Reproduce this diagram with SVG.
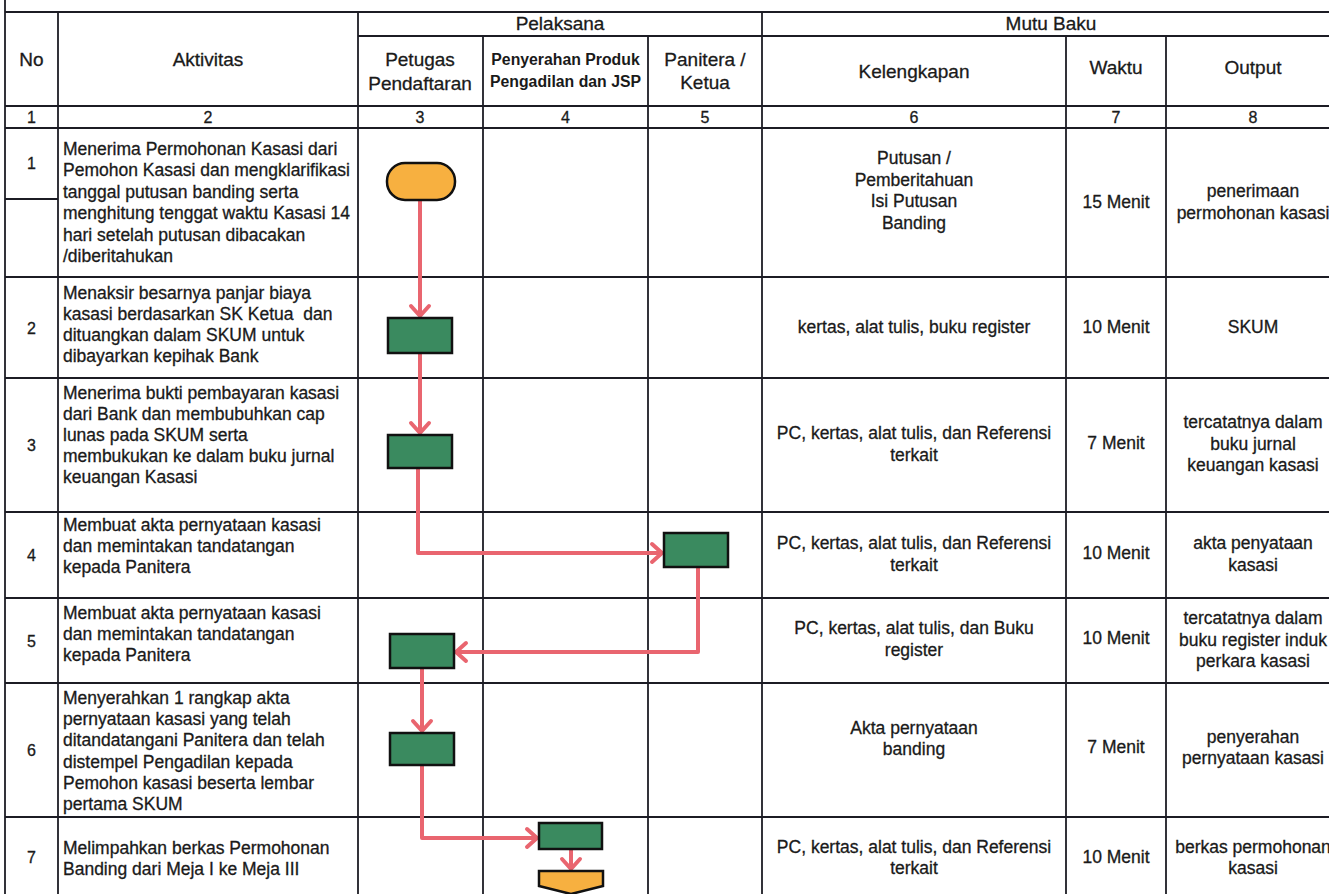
<svg xmlns="http://www.w3.org/2000/svg" width="1329" height="894" viewBox="0 0 1329 894">
<style>
.t{font-family:"Liberation Sans",Arial,sans-serif;font-size:17.5px;fill:#1a1a1a;stroke:#1a1a1a;stroke-width:0.3}
.c{text-anchor:middle}
.h{font-size:19px}
.b{font-weight:bold;font-size:15.8px;stroke-width:0}
.n{font-size:16px}
.g line{stroke:#1c1c24;stroke-width:1.8}
.proc{fill:#3A8A5F;stroke:#111;stroke-width:2.5}
.term{fill:#F7B040;stroke:#111;stroke-width:2.5}
.con{fill:none;stroke:#E9656F;stroke-width:4;stroke-linejoin:round}
</style>
<defs>
<marker id="ah" markerUnits="userSpaceOnUse" viewBox="-14 -12 18 24" refX="0" refY="0" markerWidth="18" markerHeight="24" orient="auto" overflow="visible">
<path d="M-10,-9 L0,0 L-10,9" fill="none" stroke="#E9656F" stroke-width="4" stroke-linecap="round" stroke-linejoin="round"/>
</marker>
</defs>
<rect width="1329" height="894" fill="#fff"/>
<g id="grid" class="g">
<line x1="5" y1="0" x2="5" y2="894"/>
<line x1="5" y1="12" x2="1329" y2="12"/>
<line x1="358" y1="36" x2="1329" y2="36"/>
<line x1="5" y1="106" x2="1329" y2="106"/>
<line x1="5" y1="128" x2="1329" y2="128"/>
<line x1="5" y1="199" x2="58" y2="199"/>
<line x1="5" y1="277" x2="1329" y2="277"/>
<line x1="5" y1="378" x2="1329" y2="378"/>
<line x1="5" y1="512" x2="1329" y2="512"/>
<line x1="5" y1="598" x2="1329" y2="598"/>
<line x1="5" y1="683" x2="1329" y2="683"/>
<line x1="5" y1="817" x2="1329" y2="817"/>
<line x1="58" y1="12" x2="58" y2="894"/>
<line x1="358" y1="12" x2="358" y2="894"/>
<line x1="483" y1="36" x2="483" y2="894"/>
<line x1="648" y1="36" x2="648" y2="894"/>
<line x1="762" y1="12" x2="762" y2="894"/>
<line x1="1066" y1="36" x2="1066" y2="894"/>
<line x1="1166" y1="36" x2="1166" y2="894"/>
</g>
<g id="header">
<text class="t h c" x="31.5" y="66">No</text>
<text class="t h c" x="208" y="66">Aktivitas</text>
<text class="t h c" x="560" y="30">Pelaksana</text>
<text class="t h c" x="1051" y="30">Mutu Baku</text>
<text class="t h c" x="420" y="66">Petugas</text>
<text class="t h c" x="420" y="90">Pendaftaran</text>
<text class="t b c" x="565.5" y="65">Penyerahan Produk</text>
<text class="t b c" x="565.5" y="87">Pengadilan dan JSP</text>
<text class="t h c" x="705" y="66">Panitera /</text>
<text class="t h c" x="705" y="89">Ketua</text>
<text class="t h c" x="914" y="78">Kelengkapan</text>
<text class="t h c" x="1116" y="74">Waktu</text>
<text class="t h c" x="1253" y="74">Output</text>
<text class="t n c" x="31.5" y="123">1</text>
<text class="t n c" x="208" y="123">2</text>
<text class="t n c" x="420" y="123">3</text>
<text class="t n c" x="565.5" y="123">4</text>
<text class="t n c" x="705" y="123">5</text>
<text class="t n c" x="914" y="123">6</text>
<text class="t n c" x="1116" y="123">7</text>
<text class="t n c" x="1253" y="123">8</text>
</g>
<g id="row1">
<text class="t n c" x="31.5" y="169">1</text>
<text class="t" x="63" y="155"><tspan x="63">Menerima Permohonan Kasasi dari</tspan><tspan x="63" dy="21.4">Pemohon Kasasi dan mengklarifikasi</tspan><tspan x="63" dy="21.4">tanggal putusan banding serta</tspan><tspan x="63" dy="21.4">menghitung tenggat waktu Kasasi 14</tspan><tspan x="63" dy="21.4">hari setelah putusan dibacakan</tspan><tspan x="63" dy="21.4">/diberitahukan</tspan></text>
<text class="t c" x="914" y="164"><tspan x="914">Putusan /</tspan><tspan x="914" dy="21.7">Pemberitahuan</tspan><tspan x="914" dy="21.7">Isi Putusan</tspan><tspan x="914" dy="21.7">Banding</tspan></text>
<text class="t c" x="1116" y="208">15 Menit</text>
<text class="t c" x="1253" y="197"><tspan x="1253">penerimaan</tspan><tspan x="1253" dy="21.5">permohonan kasasi</tspan></text>
</g>
<g id="row2">
<text class="t n c" x="31.5" y="334">2</text>
<text class="t" x="63" y="299"><tspan x="63">Menaksir besarnya panjar biaya</tspan><tspan x="63" dy="21">kasasi berdasarkan SK Ketua&#160; dan</tspan><tspan x="63" dy="21">dituangkan dalam SKUM untuk</tspan><tspan x="63" dy="21">dibayarkan kepihak Bank</tspan></text>
<text class="t c" x="914" y="333">kertas, alat tulis, buku register</text>
<text class="t c" x="1116" y="333">10 Menit</text>
<text class="t c" x="1253" y="333">SKUM</text>
</g>
<g id="row3">
<text class="t n c" x="31.5" y="451">3</text>
<text class="t" x="63" y="399"><tspan x="63">Menerima bukti pembayaran kasasi</tspan><tspan x="63" dy="21">dari Bank dan membubuhkan cap</tspan><tspan x="63" dy="21">lunas pada SKUM serta</tspan><tspan x="63" dy="21">membukukan ke dalam buku jurnal</tspan><tspan x="63" dy="21">keuangan Kasasi</tspan></text>
<text class="t c" x="914" y="439"><tspan x="914">PC, kertas, alat tulis, dan Referensi</tspan><tspan x="914" dy="22">terkait</tspan></text>
<text class="t c" x="1116" y="449">7 Menit</text>
<text class="t c" x="1253" y="428"><tspan x="1253">tercatatnya dalam</tspan><tspan x="1253" dy="21.5">buku jurnal</tspan><tspan x="1253" dy="21.5">keuangan kasasi</tspan></text>
</g>
<g id="row4">
<text class="t n c" x="31.5" y="561">4</text>
<text class="t" x="63" y="531"><tspan x="63">Membuat akta pernyataan kasasi</tspan><tspan x="63" dy="21">dan memintakan tandatangan</tspan><tspan x="63" dy="21">kepada Panitera</tspan></text>
<text class="t c" x="914" y="549"><tspan x="914">PC, kertas, alat tulis, dan Referensi</tspan><tspan x="914" dy="22">terkait</tspan></text>
<text class="t c" x="1116" y="559">10 Menit</text>
<text class="t c" x="1253" y="549"><tspan x="1253">akta penyataan</tspan><tspan x="1253" dy="22">kasasi</tspan></text>
</g>
<g id="row5">
<text class="t n c" x="31.5" y="647">5</text>
<text class="t" x="63" y="619"><tspan x="63">Membuat akta pernyataan kasasi</tspan><tspan x="63" dy="21">dan memintakan tandatangan</tspan><tspan x="63" dy="21">kepada Panitera</tspan></text>
<text class="t c" x="914" y="634"><tspan x="914">PC, kertas, alat tulis, dan Buku</tspan><tspan x="914" dy="22">register</tspan></text>
<text class="t c" x="1116" y="644">10 Menit</text>
<text class="t c" x="1253" y="624"><tspan x="1253">tercatatnya dalam</tspan><tspan x="1253" dy="21.5">buku register induk</tspan><tspan x="1253" dy="21.5">perkara kasasi</tspan></text>
</g>
<g id="row6">
<text class="t n c" x="31.5" y="756">6</text>
<text class="t" x="63" y="704"><tspan x="63">Menyerahkan 1 rangkap akta</tspan><tspan x="63" dy="21.2">pernyataan kasasi yang telah</tspan><tspan x="63" dy="21.2">ditandatangani Panitera dan telah</tspan><tspan x="63" dy="21.2">distempel Pengadilan kepada</tspan><tspan x="63" dy="21.2">Pemohon kasasi beserta lembar</tspan><tspan x="63" dy="21.2">pertama SKUM</tspan></text>
<text class="t c" x="914" y="734"><tspan x="914">Akta pernyataan</tspan><tspan x="914" dy="21">banding</tspan></text>
<text class="t c" x="1116" y="753">7 Menit</text>
<text class="t c" x="1253" y="743"><tspan x="1253">penyerahan</tspan><tspan x="1253" dy="21">pernyataan kasasi</tspan></text>
</g>
<g id="row7">
<text class="t n c" x="31.5" y="863">7</text>
<text class="t" x="63" y="854"><tspan x="63">Melimpahkan berkas Permohonan</tspan><tspan x="63" dy="21">Banding dari Meja I ke Meja III</tspan></text>
<text class="t c" x="914" y="853"><tspan x="914">PC, kertas, alat tulis, dan Referensi</tspan><tspan x="914" dy="21">terkait</tspan></text>
<text class="t c" x="1116" y="863">10 Menit</text>
<text class="t c" x="1253" y="853"><tspan x="1253">berkas permohonan</tspan><tspan x="1253" dy="21">kasasi</tspan></text>
</g>
<g id="connectors">
<path class="con" d="M420,200 L420,316" marker-end="url(#ah)"/>
<path class="con" d="M420,353 L420,433" marker-end="url(#ah)"/>
<path class="con" d="M418,468 L418,553 L662,553" marker-end="url(#ah)"/>
<path class="con" d="M698,567 L698,652 L456,652" marker-end="url(#ah)"/>
<path class="con" d="M422,668 L422,731" marker-end="url(#ah)"/>
<path class="con" d="M422,765 L422,838 L537,838" marker-end="url(#ah)"/>
<path class="con" d="M571,849 L571,869" marker-end="url(#ah)"/>
</g>
<g id="start"><rect class="term" x="387" y="163" width="68" height="37" rx="18"/></g>
<g id="step2"><rect class="proc" x="388" y="318" width="64" height="35"/></g>
<g id="step3"><rect class="proc" x="388" y="435" width="64" height="33"/></g>
<g id="step4"><rect class="proc" x="664" y="533" width="64" height="34"/></g>
<g id="step5"><rect class="proc" x="390" y="634" width="64" height="34"/></g>
<g id="step6"><rect class="proc" x="390" y="733" width="64" height="32"/></g>
<g id="step7"><rect class="proc" x="539" y="823" width="63" height="26"/></g>
<g id="end"><polygon class="term" points="539,871 603,871 603,886 571,894 539,886"/></g>
</svg>
